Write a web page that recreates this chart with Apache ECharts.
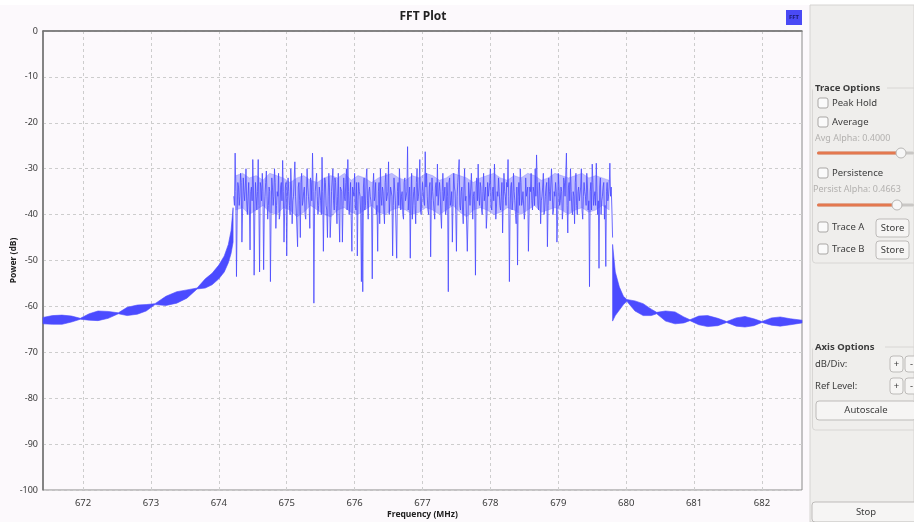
<!DOCTYPE html>
<html>
<head>
<meta charset="utf-8">
<script src="https://cdn.jsdelivr.net/npm/echarts@6/dist/echarts.min.js"></script>
<style>
  html, body { margin: 0; padding: 0; background: #ffffff; }
  #main { width: 914px; height: 522px; }
</style>
</head>
<body>
<div id="main"></div>
<script>
// --- x axis ticks (MHz) ---
const freqTicks = [672, 673, 674, 675, 676, 677, 678, 679, 680, 681, 682];

// --- left skirt (below the channel), read as a band: lower / upper edge in dB ---
const leftSkirtFreq = [671.41, 671.55, 671.69, 671.83, 671.96, 672.09, 672.22, 672.37, 672.52, 672.65,
  672.80, 672.93, 673.06, 673.22, 673.38, 673.53, 673.68, 673.80, 673.90, 674.00, 674.08, 674.14, 674.18, 674.21];
const leftSkirtLow = [-63.8, -63.9, -63.9, -63.4, -62.8, -63.0, -63.1, -62.6, -61.6, -62.0,
  -61.7, -61.0, -59.6, -59.8, -59.3, -58.2, -56.2, -56.0, -55.3, -54.0, -52.5, -50.5, -48.5, -46.0];
const leftSkirtHigh = [-62.4, -62.0, -61.9, -62.1, -62.6, -61.6, -61.0, -61.1, -61.4, -60.2,
  -59.7, -59.6, -59.4, -57.8, -56.8, -56.4, -56.0, -54.0, -52.8, -51.0, -49.0, -46.5, -43.5, -38.5];

// --- right skirt (above the channel) ---
const rightSkirtFreq = [679.80, 679.84, 679.90, 679.96, 680.01, 680.13, 680.25, 680.37, 680.45, 680.58,
  680.72, 680.85, 680.94, 681.07, 681.20, 681.35, 681.48, 681.62, 681.75, 681.88, 682.00, 682.14, 682.27, 682.42, 682.59];
const rightSkirtLow = [-63.2, -62.0, -60.8, -59.6, -58.9, -61.0, -62.0, -62.0, -61.6, -63.2,
  -63.8, -63.6, -63.1, -64.0, -64.4, -64.2, -63.5, -64.3, -64.5, -64.2, -63.5, -64.1, -64.3, -64.0, -63.6];
const rightSkirtHigh = [-46.5, -52.5, -55.8, -57.8, -58.5, -58.8, -59.4, -60.6, -61.3, -61.0,
  -61.2, -62.3, -62.9, -62.1, -62.0, -62.6, -63.3, -62.5, -62.2, -62.7, -63.3, -62.5, -62.3, -62.7, -63.0];

// --- dense core of the passband (where the trace overlaps itself), every 0.1 MHz from 674.25 ---
const coreStart = 674.25;
const coreStep = 0.1;
const coreHigh = [
  -31.5, -31, -32, -31.5, -32.5, -31, -31.5, -32, -33, -32,
  -31.5, -32.5, -33, -32, -31.5, -32, -31, -32.5, -31.5, -32,
  -33, -32, -31.5, -31, -32, -32.5, -31.5, -32, -31, -31.5,
  -32.5, -32, -31, -31.5, -32, -33, -32, -31.5, -31, -32,
  -32.5, -31.5, -32, -31, -31.5, -32.5, -32, -31, -31.5, -32,
  -31.5, -31, -32, -31.5, -32, -32.5
];
const coreLow = [
  -39, -38.5, -40, -39, -38, -39.5, -40, -38.5, -39, -40.5,
  -39.5, -38, -39, -40, -40.5, -39, -38.5, -39.5, -40, -39,
  -38, -39.5, -40, -39, -38.5, -39, -40, -39.5, -38.5, -39,
  -40, -39, -38, -39.5, -40.5, -39, -38.5, -39, -40, -39.5,
  -38.5, -39, -40, -39, -38, -39.5, -39, -38.5, -39, -40,
  -39, -38.5, -39.5, -39, -38, -39
];

// --- passband bins: even bins from 674.22 MHz, 0.02 MHz apart ---
const passStart = 674.22;
const passStep = 0.02;
const passPower = [
  -36, -26.6, -53.5, -33, -38, -31, -46, -32, -37, -30, -40, -33, -47.7, -34, -28, -53.2, -33, -39, -28, -52.5,
  -34, -31, -52, -36, -30.5, -41, -34, -54.6, -32, -38, -30, -43, -35, -31, -40, -33, -28.2, -46, -34, -49,
  -32, -38, -30, -42, -36, -28.5, -39, -47, -33, -45, -31, -37, -34, -41, -30, -36, -43, -33, -26.6, -59.3,
  -35, -31, -40, -34, -37, -27.5, -48, -32, -38, -45, -31, -45, -35, -30, -39, -33, -42, -31, -46, -34,
  -46, -32, -37, -30, -28, -40, -33, -48, -35, -31, -39, -49, -33, -36, -54.6, -56.8, -32, -38, -30, -41,
  -34, -37, -54, -31, -36, -40, -48, -33, -30, -38, -35, -42, -31, -36, -28.5, -40, -34, -49, -32, -37,
  -49.5, -33, -30, -39, -35, -41, -32, -37, -25.2, -36, -49.5, -31, -38, -34, -42, -30, -36, -28, -40, -33,
  -37, -26.3, -31, -39, -34, -49.2, -32, -37, -41, -33, -29, -38, -35, -43, -31, -36, -40, -33, -56.8, -32,
  -37, -46, -31, -35, -48, -33, -28, -39, -34, -42, -30, -36, -48, -33, -38, -31, -41, -35, -53.2, -32,
  -29, -38, -34, -40, -31, -37, -43, -33, -36, -30, -39, -34, -29, -41, -35, -32, -38, -36, -44, -31,
  -36, -33, -28, -54.6, -34, -39, -31, -37, -42, -51, -33, -30, -38, -35, -41, -32, -36, -48, -34, -31,
  -39, -35, -30, -27, -38, -33, -42, -36, -31, -39, -34, -47, -32, -37, -30, -40, -35, -33, -46, -31,
  -38, -34, -41, -32, -36, -26.6, -44, -33, -30, -39, -35, -42, -31, -40, -34, -37, -30, -41, -33, -36,
  -31, -39, -55.7, -33, -29, -38, -35, -28.8, -40, -51.7, -32, -37, -34, -41, -51.3, -33, -36, -28.8, -34, -45
];
// odd bins, half a step after each even bin
const passPowerMid = [
  -38, -35, -40, -34, -36, -33, -39, -35, -34, -37, -36, -39, -35, -37, -34, -40, -36, -35, -38, -33,
  -37, -35, -39, -33, -36, -38, -35, -40, -34, -36, -33, -38, -36, -41, -34, -37, -35, -39, -33, -36,
  -35, -40, -34, -37, -32, -36, -39, -34, -37, -33, -38, -35, -40, -36, -34, -38, -32, -37, -35, -39,
  -33, -36, -38, -34, -40, -35, -37, -33, -39, -36, -34, -41, -35, -37, -32, -38, -36, -40, -34, -35,
  -38, -36, -33, -39, -35, -37, -41, -34, -36, -38, -33, -37, -35, -40, -36, -34, -39, -32, -37, -35,
  -36, -39, -34, -37, -33, -38, -35, -42, -36, -34, -39, -33, -37, -35, -40, -34, -36, -38, -32, -37,
  -35, -38, -34, -36, -40, -33, -37, -35, -39, -34, -36, -41, -35, -38, -33, -37, -34, -39, -36, -35,
  -38, -34, -36, -40, -33, -37, -35, -39, -34, -36, -38, -33, -40, -35, -37, -34, -39, -36, -33, -38,
  -35, -37, -34, -40, -36, -33, -38, -35, -39, -34, -37, -36, -41, -33, -38, -35, -36, -39, -34, -37,
  -36, -33, -39, -35, -37, -34, -40, -36, -33, -38, -35, -37, -34, -41, -36, -35, -39, -33, -37, -35,
  -38, -34, -36, -39, -33, -37, -35, -40, -34, -36, -38, -33, -37, -35, -39, -36, -34, -40, -35, -37,
  -34, -38, -36, -33, -39, -35, -37, -34, -40, -36, -33, -38, -35, -37, -34, -39, -36, -35, -41, -34,
  -37, -35, -39, -33, -36, -38, -34, -37, -35, -40, -36, -33, -38, -35, -37, -34, -39, -36, -35, -38,
  -34, -37, -35, -39, -33, -36, -38, -35, -37, -34, -40, -36, -33, -38, -35, -37, -34, -36, -39
];

const BLUE = '#4b4bff';
const FONT = '"Noto Sans", "DejaVu Sans", sans-serif';
const PANEL = '#efeeec';

// one filled polygon between a lower and an upper edge
function bandSeries(name, freqs, lows, highs, fill) {
  const data = freqs.map((f, i) => [f, lows[i], highs[i]]);
  return {
    name,
    type: 'custom',
    silent: true,
    data,
    encode: { x: 0, y: [1, 2] },
    renderItem(params, api) {
      if (params.dataIndex !== 0) return null;
      const top = data.map((d) => api.coord([d[0], d[2]]));
      const bottom = data.map((d) => api.coord([d[0], d[1]])).reverse();
      return {
        type: 'polygon',
        shape: { points: top.concat(bottom) },
        style: { fill, stroke: fill, lineWidth: 0.6 }
      };
    }
  };
}

const coreFreq = coreHigh.map((_, i) => coreStart + i * coreStep);

const passData = [];
passPower.forEach((v, i) => {
  const f = passStart + i * passStep;
  passData.push([f, v]);
  if (i < passPowerMid.length) passData.push([f + passStep / 2, passPowerMid[i]]);
});

// right-hand control panel, drawn as plain shapes + text
function checkbox(y, label) {
  return [
    { type: 'rect', shape: { x: 818, y: y - 5, width: 10, height: 10, r: 2 },
      style: { fill: '#fafafa', stroke: '#a9a7a5', lineWidth: 1 } },
    { type: 'text', x: 832, y, style: { text: label, font: `9.5px ${FONT}`, fill: '#3c3c3c', verticalAlign: 'middle' } }
  ];
}
function button(x, y, w, h, label) {
  return [
    { type: 'rect', shape: { x, y, width: w, height: h, r: 3 },
      style: { fill: '#f6f5f4', stroke: '#bdbbb9', lineWidth: 1 } },
    { type: 'text', x: x + w / 2, y: y + h / 2, style: { text: label, font: `9.5px ${FONT}`, fill: '#3c3c3c', align: 'center', verticalAlign: 'middle' } }
  ];
}
function slider(y, split, knob) {
  return [
    { type: 'rect', shape: { x: 817, y: y - 1.5, width: 97, height: 3, r: 1.5 }, style: { fill: '#c9c7c5' } },
    { type: 'rect', shape: { x: 817, y: y - 1.5, width: split - 817, height: 3, r: 1.5 }, style: { fill: '#e4784f' } },
    { type: 'circle', shape: { cx: knob, cy: y, r: 5 }, style: { fill: '#f7f7f7', stroke: '#b8b6b4', lineWidth: 1 } }
  ];
}
function groupTitle(y, label) {
  return { type: 'text', x: 815, y, style: { text: label, font: `bold 9.5px ${FONT}`, fill: '#3c3c3c', verticalAlign: 'middle' } };
}

const panel = [
  { type: 'rect', shape: { x: 0, y: 0, width: 914, height: 5 }, style: { fill: '#ffffff' } },
  { type: 'rect', shape: { x: 810, y: 5, width: 104, height: 517 }, style: { fill: PANEL, stroke: '#d6d4d2', lineWidth: 1 } },
  { type: 'rect', shape: { x: 812.5, y: 88, width: 110, height: 175, r: 3 }, style: { fill: 'none', stroke: '#d8d6d4', lineWidth: 1 } },
  { type: 'rect', shape: { x: 813, y: 82, width: 74, height: 12 }, style: { fill: PANEL } },
  groupTitle(88, 'Trace Options'),
  ...checkbox(103, 'Peak Hold'),
  ...checkbox(122, 'Average'),
  { type: 'text', x: 815, y: 138, style: { text: 'Avg Alpha: 0.4000', font: `9px ${FONT}`, fill: '#b3b1af', verticalAlign: 'middle' } },
  ...slider(153, 898, 901),
  ...checkbox(173, 'Persistence'),
  { type: 'text', x: 813, y: 189, style: { text: 'Persist Alpha: 0.4663', font: `9px ${FONT}`, fill: '#b3b1af', verticalAlign: 'middle' } },
  ...slider(205, 893, 897),
  ...checkbox(227, 'Trace A'),
  ...button(876, 219, 33, 18, 'Store'),
  ...checkbox(249, 'Trace B'),
  ...button(876, 241, 33, 18, 'Store'),
  { type: 'rect', shape: { x: 812.5, y: 347, width: 110, height: 83, r: 3 }, style: { fill: 'none', stroke: '#d8d6d4', lineWidth: 1 } },
  { type: 'rect', shape: { x: 813, y: 341, width: 72, height: 12 }, style: { fill: PANEL } },
  groupTitle(347, 'Axis Options'),
  { type: 'text', x: 815, y: 364, style: { text: 'dB/Div:', font: `9.5px ${FONT}`, fill: '#3c3c3c', verticalAlign: 'middle' } },
  ...button(890, 356, 13, 16, '+'),
  ...button(905, 356, 13, 16, '-'),
  { type: 'text', x: 815, y: 386, style: { text: 'Ref Level:', font: `9.5px ${FONT}`, fill: '#3c3c3c', verticalAlign: 'middle' } },
  ...button(890, 378, 13, 16, '+'),
  ...button(905, 378, 13, 16, '-'),
  ...button(816, 401, 100, 19, 'Autoscale'),
  ...button(812, 502, 108, 20, 'Stop'),
  // chart title and legend chip
  { type: 'text', x: 423, y: 17, style: { text: 'FFT Plot', font: `bold 12px ${FONT}`, fill: '#222222', align: 'center', verticalAlign: 'middle' } },
  { type: 'rect', shape: { x: 786, y: 10, width: 16, height: 15 }, style: { fill: '#4a4af5' } },
  { type: 'text', x: 794, y: 17.5, style: { text: 'FFT', font: `bold 6px ${FONT}`, fill: '#1a1a70', align: 'center', verticalAlign: 'middle' } }
];

const chart = echarts.init(document.getElementById('main'), null, { renderer: 'canvas' });

chart.setOption({
  animation: false,
  backgroundColor: '#fcf9fc',
  grid: {
    left: 43,
    right: 112,
    top: 31,
    bottom: 32,
    outerBoundsMode: 'none',
    show: true,
    borderColor: '#8a8a8a',
    borderWidth: 1
  },
  xAxis: {
    type: 'value',
    min: 671.41,
    max: 682.59,
    name: 'Frequency (MHz)',
    nameLocation: 'middle',
    nameGap: 20,
    nameMoveOverlap: false,
    nameTextStyle: { fontFamily: FONT, fontSize: 8.5, fontWeight: 'bold', color: '#222' },
    axisLine: { show: true, lineStyle: { color: '#6f6f6f', width: 1.5 } },
    axisTick: { show: false, customValues: freqTicks },
    axisLabel: { customValues: freqTicks, color: '#3a3a3a', fontFamily: FONT, fontSize: 9.5, margin: 8 },
    splitLine: { show: true, lineStyle: { color: '#cdcdcd', type: [3, 3], width: 1 } }
  },
  yAxis: {
    type: 'value',
    min: -100,
    max: 0,
    interval: 10,
    name: 'Power (dB)',
    nameLocation: 'middle',
    nameGap: 25,
    nameMoveOverlap: false,
    nameTextStyle: { fontFamily: FONT, fontSize: 8.5, fontWeight: 'bold', color: '#222' },
    axisLine: { show: true, lineStyle: { color: '#6f6f6f', width: 1.5 } },
    axisTick: { show: false },
    axisLabel: { color: '#3a3a3a', fontFamily: FONT, fontSize: 9, margin: 5 },
    splitLine: { show: true, lineStyle: { color: '#cdcdcd', type: [3, 3], width: 1 } }
  },
  series: [
    bandSeries('lower skirt', leftSkirtFreq, leftSkirtLow, leftSkirtHigh, BLUE),
    bandSeries('upper skirt', rightSkirtFreq, rightSkirtLow, rightSkirtHigh, BLUE),
    bandSeries('core', coreFreq, coreLow, coreHigh, 'rgba(75, 75, 255, 0.35)'),
    {
      name: 'FFT',
      type: 'line',
      data: passData,
      showSymbol: false,
      symbol: 'none',
      lineStyle: { color: 'rgba(72, 72, 255, 0.8)', width: 1 },
      silent: true
    }
  ],
  graphic: { elements: panel }
});
</script>
</body>
</html>
